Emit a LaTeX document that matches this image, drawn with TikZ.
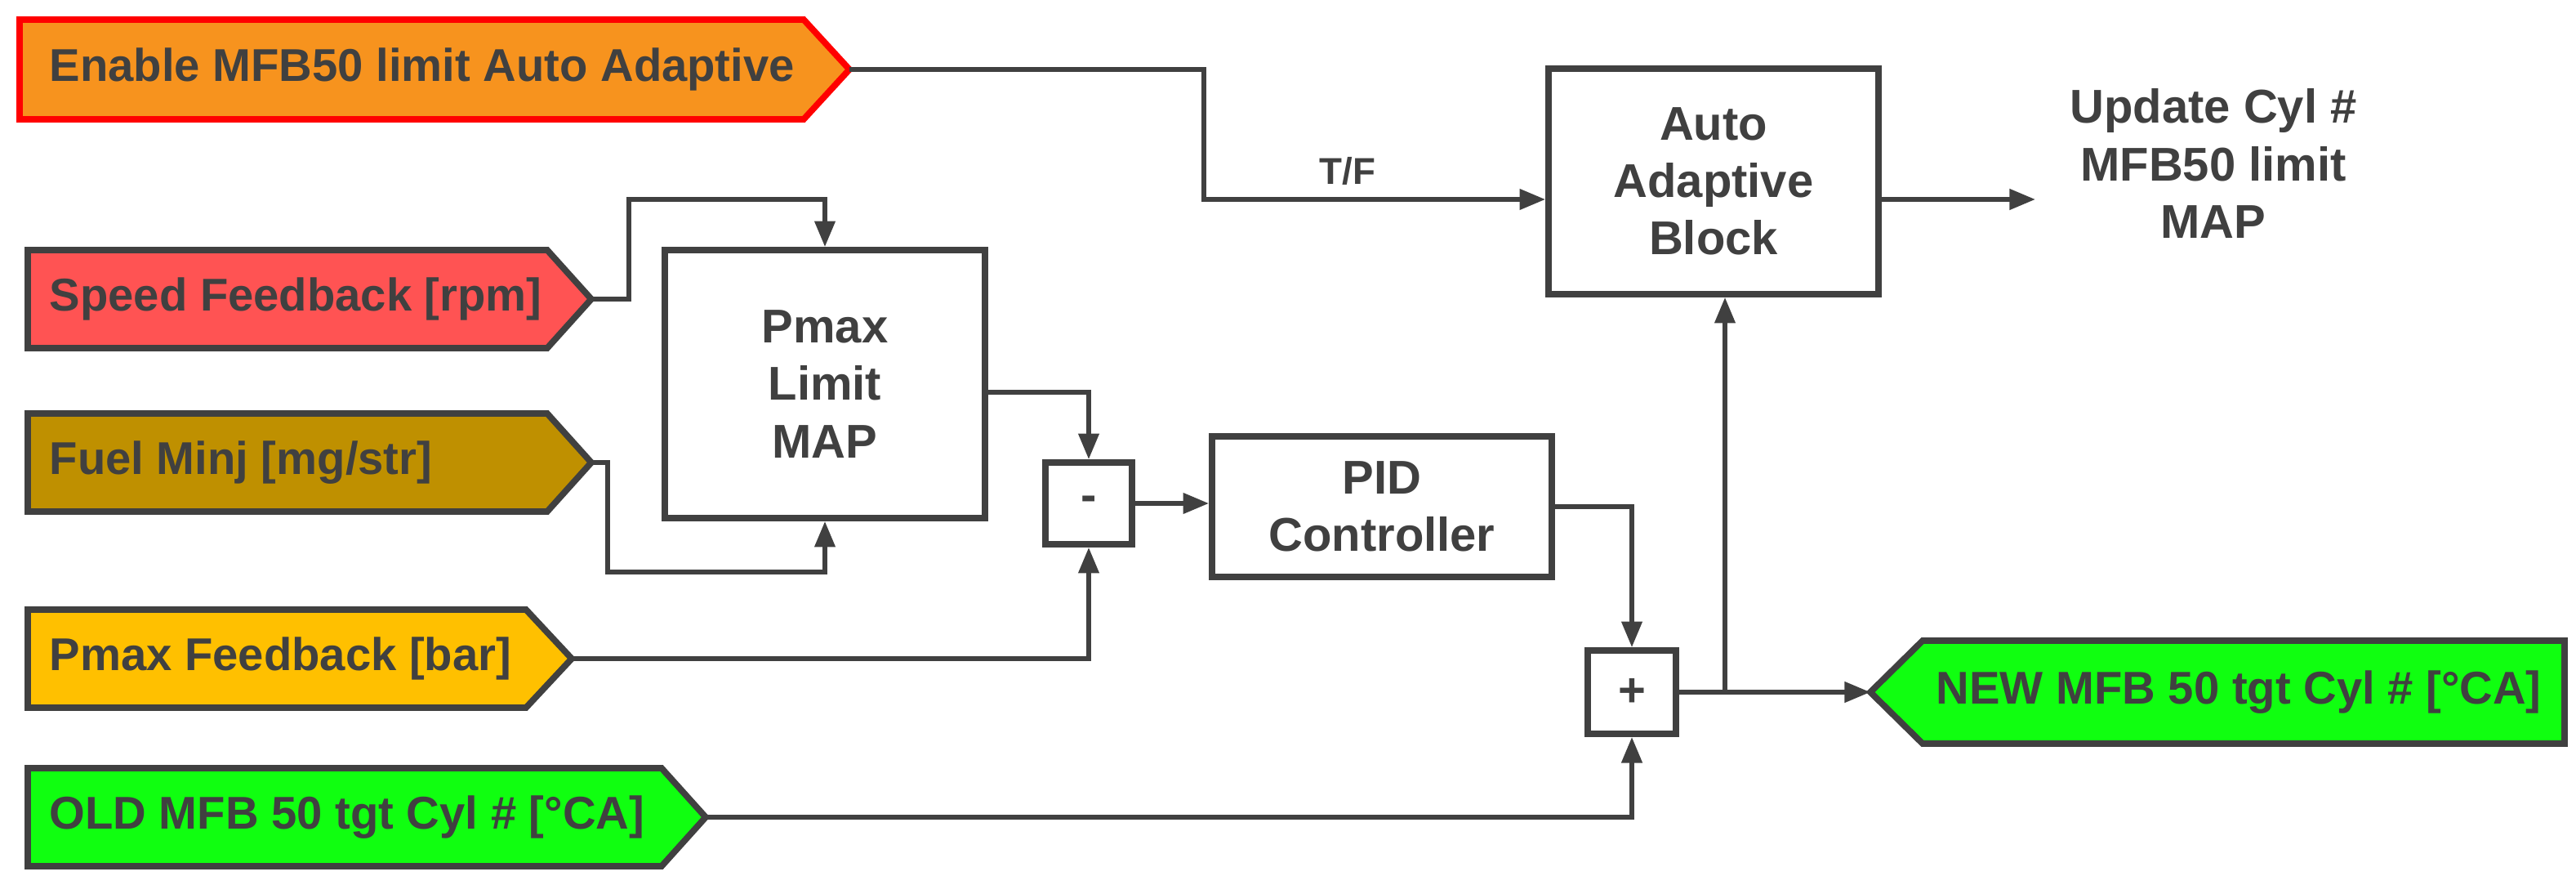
\documentclass[tikz,border=0pt]{standalone}
\usepackage{fontspec}
\setmainfont{Liberation Sans}
\usetikzlibrary{arrows.meta}
\definecolor{dk}{HTML}{404040}
\definecolor{cOr}{HTML}{F7931E}
\definecolor{cRd}{HTML}{FF5353}
\definecolor{cBr}{HTML}{BF9000}
\definecolor{cYe}{HTML}{FFC000}
\definecolor{cGr}{HTML}{10FF10}
\begin{document}
\begin{tikzpicture}[x=0.02cm,y=-0.02cm,
  sig/.style={draw=dk,line width=2.2pt,line join=miter},
  lbl/.style={anchor=west,inner sep=0pt,text=dk,font=\fontsize{16}{19}\selectfont\bfseries},
  blk/.style={draw=dk,line width=2.2pt,fill=white,text=dk,align=center,inner sep=0pt,font=\fontsize{16.5}{20}\selectfont\bfseries},
  wire/.style={draw=dk,line width=1.6pt},
  arr/.style={wire,-{Triangle[length=9pt,width=7pt]}}]
\useasboundingbox (0,0) rectangle (1577,547);
% signals
\draw[sig,draw=red,fill=cOr] (12,12)--(492,12)--(520,42.5)--(492,73)--(12,73)--cycle;
\node[lbl] (en) at (30,42.5) {Enable MFB50 limit Auto Adaptive};
\coordinate (enT) at (520,42.5);
\draw[sig,fill=cRd] (17,153)--(335,153)--(362,183)--(335,213)--(17,213)--cycle;
\node[lbl] (sp) at (30,183) {Speed Feedback [rpm]};
\coordinate (spT) at (362,183);
\draw[sig,fill=cBr] (17,253)--(335,253)--(362,283)--(335,313)--(17,313)--cycle;
\node[lbl] (fu) at (30,283) {Fuel Minj [mg/str]};
\coordinate (fuT) at (362,283);
\draw[sig,fill=cYe] (17,373)--(322,373)--(350,403)--(322,433)--(17,433)--cycle;
\node[lbl] (pf) at (30,403) {Pmax Feedback [bar]};
\coordinate (pfT) at (350,403);
\draw[sig,fill=cGr] (17,470)--(405,470)--(432,500)--(405,530)--(17,530)--cycle;
\node[lbl] (old) at (30,500) {OLD MFB 50 tgt Cyl \# [°CA]};
\coordinate (oldT) at (432,500);
\draw[sig,fill=cGr] (1145,423.5)--(1177,392)--(1570,392)--(1570,455)--(1177,455)--cycle;
\node[lbl] (new) at (1185,423.5) {NEW MFB 50 tgt Cyl \# [°CA]};
\coordinate (newT) at (1145,423.5);
% blocks
\node[blk,minimum width=196*0.02cm,minimum height=164*0.02cm] (pm) at (505,235) {Pmax\\Limit\\MAP};
\node[blk,minimum width=53*0.02cm,minimum height=50*0.02cm] (mi) at (666.5,308) {-};
\node[blk,minimum width=208*0.02cm,minimum height=86*0.02cm] (pid) at (846,310) {PID\\Controller};
\node[blk,minimum width=54*0.02cm,minimum height=51*0.02cm] (pl) at (999,423.5) {+};
\node[blk,minimum width=202*0.02cm,minimum height=138*0.02cm] (aa) at (1049,111) {Auto\\Adaptive\\Block};
\node[text=dk,align=center,font=\fontsize{16.5}{20}\selectfont\bfseries] (up) at (1355,100) {Update Cyl \#\\MFB50 limit\\MAP};
\coordinate (upL) at (1246,122);
% wires
\draw[arr] (enT) -| (737,122) -- (aa.west |- 0,122) node[pos=0.42,above=1pt,text=dk,font=\fontsize{13}{15}\selectfont\bfseries] {T/F};
\draw[arr] (spT) -| (385,122) -| (pm.north);
\draw[arr] (fuT) -| (372,350) -| (pm.south);
\draw[arr] (pm.east |- 0,240) -| (mi.north);
\draw[arr] (pfT) -| (mi.south);
\draw[arr] (mi.east) -- (pid.west |- mi.east);
\draw[arr] (pid.east) -| (pl.north);
\draw[arr] (oldT) -| (pl.south);
\draw[arr] (pl.east) -- (newT);
\draw[arr] (1056,423.5) -- (1056,0 |- aa.south);
\draw[arr] (aa.east |- upL) -- (upL);
\end{tikzpicture}
\end{document}
